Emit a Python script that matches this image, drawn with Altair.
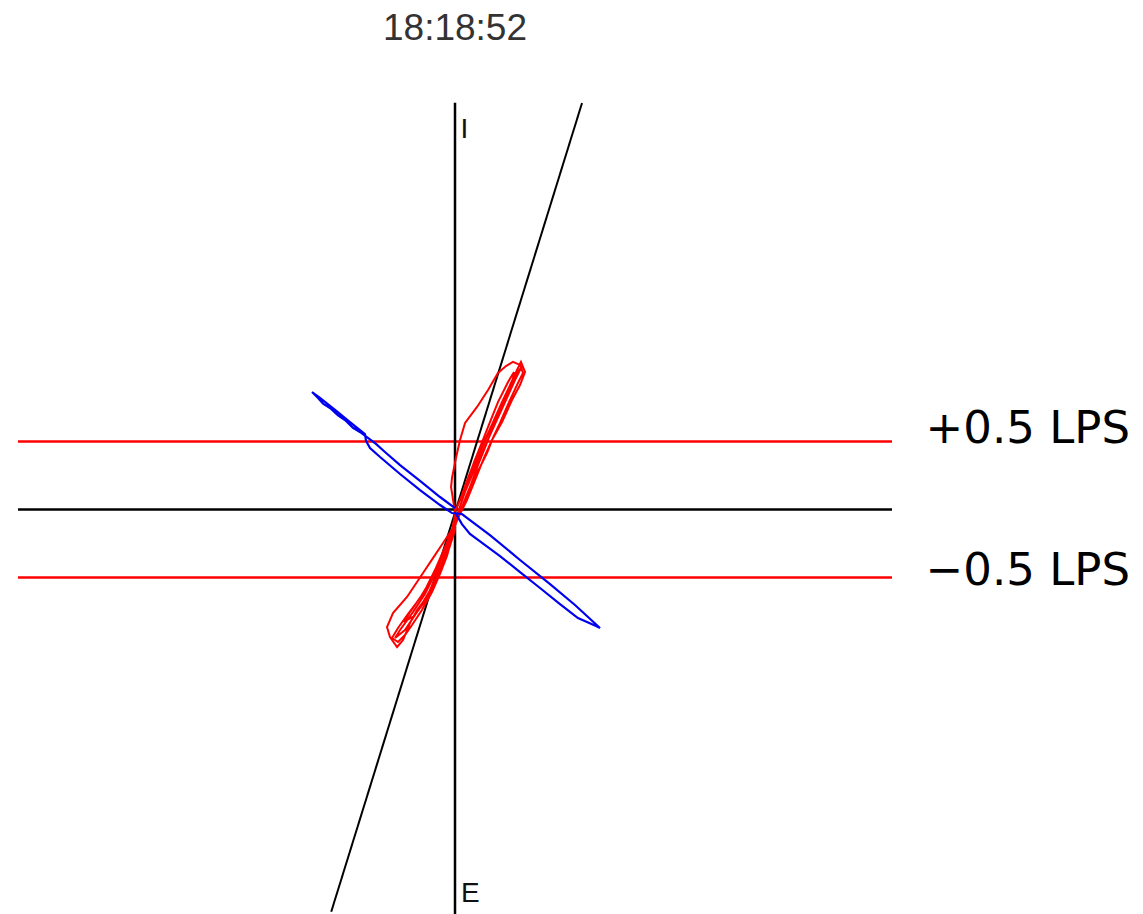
import altair as alt
import pandas as pd

# Ventilator loop snapshot: horizontal quantity vs flow (LPS)
timestamp = "18:18:52"

# Blue loop trace
blue_x = [0.000, -0.110, -0.257, -0.404, -0.515, -0.581, -0.699, -0.750, -0.809, -0.860,
          -0.919, -0.970, -1.007, -1.051, -0.993, -0.882, -0.772, -0.662, -0.654, -0.625,
          -0.551, -0.404, -0.257, -0.110, -0.022, 0.051, 0.257, 0.478, 0.699, 0.882,
          1.066, 1.037, 0.904, 0.772, 0.625, 0.478, 0.331, 0.199, 0.110, 0.051, 0.000]
blue_y = [0.011, 0.092, 0.210, 0.327, 0.423, 0.482, 0.570, 0.601, 0.658, 0.693,
          0.746, 0.779, 0.820, 0.864, 0.820, 0.732, 0.643, 0.555, 0.504, 0.452,
          0.386, 0.261, 0.143, 0.033, -0.026, -0.033, -0.188, -0.371, -0.548, -0.702,
          -0.871, -0.857, -0.798, -0.695, -0.577, -0.460, -0.342, -0.246, -0.180, -0.107, -0.018]

# Red loop trace (four consecutive breaths)
red_x = [0.000, 0.051, 0.096, 0.154, 0.221, 0.287, 0.353, 0.412, 0.456, 0.485,
         0.515, 0.478, 0.419, 0.346, 0.272, 0.213, 0.154, 0.088, 0.022, -0.037,
         -0.096, -0.169, -0.257, -0.346, -0.419, -0.463, -0.419, -0.368, -0.316, -0.243,
         -0.169, -0.110, -0.059, -0.022, 0.000,
         -0.029, -0.022, 0.007, 0.037, 0.074, 0.162, 0.243, 0.316, 0.375, 0.426,
         0.478, 0.500, 0.463, 0.397, 0.331, 0.279, 0.235, 0.184, 0.132, 0.088,
         0.051, 0.000, -0.088, -0.162, -0.235, -0.294, -0.353, -0.456, -0.500, -0.478,
         -0.426, -0.382, -0.331, -0.279, -0.206, -0.125, -0.051, 0.000, 0.000,
         0.081, 0.140, 0.199, 0.257, 0.316, 0.390, 0.434, 0.419, 0.360, 0.287,
         0.228, 0.169, 0.110, 0.037, -0.051, -0.140, -0.228, -0.331, -0.375, -0.301,
         -0.213, -0.125, -0.059, 0.000, 0.000,
         0.037, 0.110, 0.184, 0.257, 0.331, 0.404, 0.463, 0.493, 0.441, 0.368,
         0.294, 0.221, 0.147, 0.074, 0.015, -0.059, -0.132, -0.221, -0.309, -0.404,
         -0.441, -0.368, -0.279, -0.191, -0.110, -0.044, 0.000]
red_y = [-0.018, 0.107, 0.232, 0.379, 0.511, 0.658, 0.805, 0.930, 1.026, 1.085,
         1.011, 0.915, 0.805, 0.643, 0.511, 0.379, 0.232, 0.070, -0.063, -0.210,
         -0.357, -0.504, -0.651, -0.768, -0.871, -0.945, -0.974, -0.923, -0.849, -0.739,
         -0.607, -0.474, -0.342, -0.210, -0.018,
         0.165, 0.232, 0.379, 0.511, 0.636, 0.754, 0.879, 1.004, 1.055, 1.085,
         1.063, 1.004, 0.930, 0.790, 0.636, 0.526, 0.415, 0.313, 0.217, 0.114,
         0.018, -0.114, -0.246, -0.357, -0.467, -0.555, -0.643, -0.761, -0.864, -0.938,
         -1.011, -0.960, -0.835, -0.739, -0.643, -0.467, -0.298, -0.151, -0.018,
         0.180, 0.349, 0.496, 0.643, 0.790, 0.938, 1.011, 0.915, 0.790, 0.629,
         0.474, 0.327, 0.165, -0.018, -0.224, -0.430, -0.607, -0.754, -0.827, -0.783,
         -0.665, -0.504, -0.335, -0.151, -0.018,
         0.070, 0.254, 0.423, 0.585, 0.746, 0.893, 1.011, 1.055, 0.952, 0.790,
         0.629, 0.467, 0.305, 0.129, -0.040, -0.261, -0.445, -0.621, -0.754, -0.886,
         -0.945, -0.886, -0.754, -0.607, -0.430, -0.261, -0.040]

# Reference lines
h_levels = [0.5, 0.0, -0.5]
h_colors = ["#ff0000", "#000000", "#ff0000"]
x_span = [-3.213, 3.213]
y_span = [-2.974, 3.011]
vert_top = 2.99
diag_x = [-0.910, 0.934]
diag_y = [-2.958, 2.989]

xs = alt.Scale(domain=x_span, nice=False, zero=False)
ys = alt.Scale(domain=y_span, nice=False, zero=False)


def X(field="x"):
    return alt.X(f"{field}:Q", scale=xs, axis=None)


def Y(field="y"):
    return alt.Y(f"{field}:Q", scale=ys, axis=None)


hl_df = pd.DataFrame({"y": h_levels, "x": [x_span[0]] * 3, "x2": [x_span[1]] * 3, "c": h_colors})
hlines = alt.Chart(hl_df).mark_rule(strokeWidth=2.5).encode(
    x=X(), x2="x2:Q", y=Y(), color=alt.Color("c:N", scale=None)
)

vl_df = pd.DataFrame({"x": [0.0], "y": [y_span[0]], "y2": [vert_top]})
vline = alt.Chart(vl_df).mark_rule(strokeWidth=2.5, color="#000000").encode(
    x=X(), y=Y(), y2="y2:Q"
)

diag_df = pd.DataFrame({"x": diag_x, "y": diag_y})
diag = alt.Chart(diag_df).mark_line(strokeWidth=2, color="#000000").encode(x=X(), y=Y())

red_df = pd.DataFrame({"x": red_x, "y": red_y, "i": range(len(red_x))})
red = alt.Chart(red_df).mark_line(strokeWidth=2, color="#ff0000").encode(
    x=X(), y=Y(), order="i:Q"
)

blue_df = pd.DataFrame({"x": blue_x, "y": blue_y, "i": range(len(blue_x))})
blue = alt.Chart(blue_df).mark_line(strokeWidth=2.2, color="#0000f0").encode(
    x=X(), y=Y(), order="i:Q"
)

ie_df = pd.DataFrame({"x": [0.040, 0.044], "y": [2.729, -2.886], "t": ["I", "E"]})
ie = alt.Chart(ie_df).mark_text(
    font="Liberation Sans", fontSize=28, align="left", baseline="alphabetic", color="#111111"
).encode(x=X(), y=Y(), text="t:N")

lbl_x = 3.46
plus_df = pd.DataFrame({"x": [lbl_x], "y": [0.5], "t": ["+0.5 LPS"]})
plus = alt.Chart(plus_df).mark_text(
    font="DejaVu Sans", fontSize=45, align="left", baseline="alphabetic", dy=1.5, color="#000000"
).encode(x=X(), y=Y(), text="t:N")

minus_df = pd.DataFrame({"x": [lbl_x], "y": [-0.5], "t": ["\u22120.5 LPS"]})
minus = alt.Chart(minus_df).mark_text(
    font="DejaVu Sans", fontSize=45, align="left", baseline="alphabetic", dy=7.5, color="#000000"
).encode(x=X(), y=Y(), text="t:N")

title_df = pd.DataFrame({"x": [0.0], "y": [3.452], "t": [timestamp]})
title = alt.Chart(title_df).mark_text(
    font="Liberation Sans", fontSize=37, align="center", baseline="alphabetic", color="#333333"
).encode(x=X(), y=Y(), text="t:N")

chart = alt.layer(hlines, vline, diag, red, blue, ie, plus, minus, title).properties(
    width=874,
    height=814,
    autosize=alt.AutoSizeParams(type="none"),
    padding={"left": 18, "top": 100, "right": 251, "bottom": 0},
    background="#ffffff",
).configure_view(stroke=None)

chart.save("out.html", embed_options={"renderer": "svg", "actions": False})
